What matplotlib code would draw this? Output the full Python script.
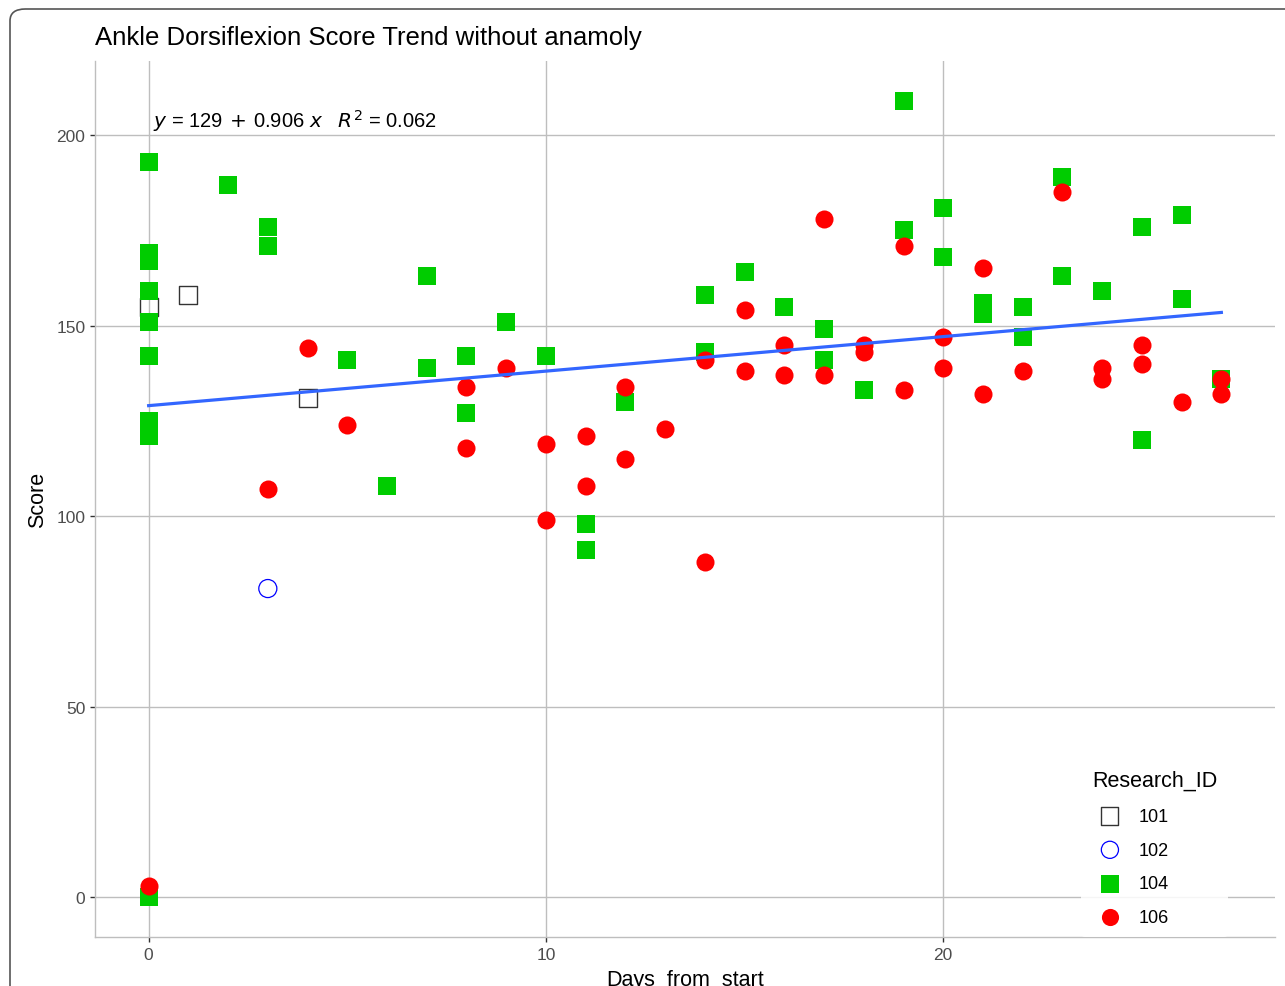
import matplotlib.pyplot as plt
import matplotlib.patches as mpatches
import numpy as np

plt.rcParams['font.family'] = ['Liberation Sans', 'DejaVu Sans']

# Scores per participant (Research_ID)
dias_101 = [0, 1, 4]
score_101 = [155, 158, 131]

dias_102 = [3]
score_102 = [81]

dias_104 = [0, 0, 0, 0, 0, 0, 0, 0, 0, 2, 3, 3, 5, 6, 7, 7, 8, 8, 9, 10, 11, 11, 12,
            14, 14, 15, 16, 17, 17, 18, 19, 19, 20, 20, 21, 21, 22, 22, 23, 23, 24,
            25, 25, 26, 26, 27]
score_104 = [193, 169, 167, 159, 151, 142, 125, 121, 0, 187, 176, 171, 141, 108, 163, 139,
             142, 127, 151, 142, 98, 91, 130, 158, 143, 164, 155, 149, 141, 133, 209, 175,
             181, 168, 156, 153, 155, 147, 189, 163, 159, 176, 120, 179, 157, 136]

dias_106 = [0, 3, 4, 5, 8, 8, 9, 10, 10, 11, 11, 12, 12, 13, 14, 14, 15, 15, 16, 16,
            17, 17, 18, 18, 19, 19, 20, 20, 21, 21, 22, 23, 24, 24, 25, 25, 26, 27, 27]
score_106 = [3, 107, 144, 124, 134, 118, 139, 119, 99, 121, 108, 134, 115, 123, 141, 88,
             154, 138, 145, 137, 178, 137, 145, 143, 171, 133, 147, 139, 165, 132, 138, 185,
             139, 136, 145, 140, 130, 136, 132]

# Linear fit reported on the chart
intercepto = 129
inclinacao = 0.906
r2 = 0.062

fig = plt.figure(figsize=(12.85, 9.87), dpi=100)
ax = fig.add_axes([95 / 1285, 49 / 987, 1180 / 1285, 876 / 987])

# Points, one layer per participant
ax.scatter(dias_101, score_101, marker='s', s=13 ** 2, facecolors='none',
           edgecolors='#333333', linewidths=1.0, label='101', zorder=3)
ax.scatter(dias_102, score_102, marker='o', s=13 ** 2, facecolors='none',
           edgecolors='#0000FF', linewidths=0.9, label='102', zorder=3)
ax.scatter(dias_104, score_104, marker='s', s=13 ** 2, color='#00CC00',
           linewidths=0, label='104', zorder=4)
ax.scatter(dias_106, score_106, marker='o', s=13 ** 2, color='#FF0000',
           linewidths=0, label='106', zorder=5)

# Regression line
todos_dias = dias_101 + dias_102 + dias_104 + dias_106
x_fit = np.linspace(min(todos_dias), max(todos_dias), 50)
ax.plot(x_fit, intercepto + inclinacao * x_fit, color='#3366FF', linewidth=2.3, zorder=6)

ax.text(0.12, 200.5, r'$y$ = ' + f'{intercepto}' + r'$\,+\,$' + f'{inclinacao}' + r' $x$   $R^2$ = ' + f'{r2}',
        fontsize=14.5, ha='left', va='bottom', color='black')

# Axes and grid
ax.set_xlim(-1.35, 28.35)
ax.set_ylim(-10.45, 219.45)
ax.set_xticks([0, 10, 20])
ax.set_yticks([0, 50, 100, 150, 200])
ax.grid(True, color='#BEBEBE', linewidth=1.0)
ax.set_axisbelow(True)
for lado in ['top', 'right']:
    ax.spines[lado].set_visible(False)
for lado in ['left', 'bottom']:
    ax.spines[lado].set_color('#BEBEBE')
    ax.spines[lado].set_linewidth(1.0)
ax.tick_params(axis='both', colors='#333333', labelcolor='#4D4D4D', labelsize=12.5,
               length=3.5, width=1.0)

ax.set_xlabel('Days_from_start', fontsize=15.5, labelpad=5)
ax.set_ylabel('Score', fontsize=15.5, labelpad=6)
ax.set_title('Ankle Dorsiflexion Score Trend without anamoly', fontsize=18.5,
             loc='left', pad=12)

leg = ax.legend(title='Research_ID', loc='lower left', bbox_to_anchor=(1072 / 1285, 40 / 987),
                bbox_transform=fig.transFigure, frameon=True, fontsize=13, title_fontsize=15.5,
                labelspacing=0.93, handletextpad=0.6, borderpad=0.6, markerscale=0.95)
leg.get_frame().set_edgecolor('none')
leg.get_frame().set_facecolor('white')
leg.get_frame().set_alpha(0.85)
leg._legend_box.align = 'left'

# Rounded frame around the panel
moldura = mpatches.FancyBboxPatch((10 / 1285, -0.2), 1.3, 0.2 + 977 / 987,
                                  boxstyle='round,pad=0,rounding_size=0.012',
                                  transform=fig.transFigure, facecolor='none',
                                  edgecolor='#555555', linewidth=1.2)
fig.patches.append(moldura)

fig.savefig('out.png', dpi=100)
